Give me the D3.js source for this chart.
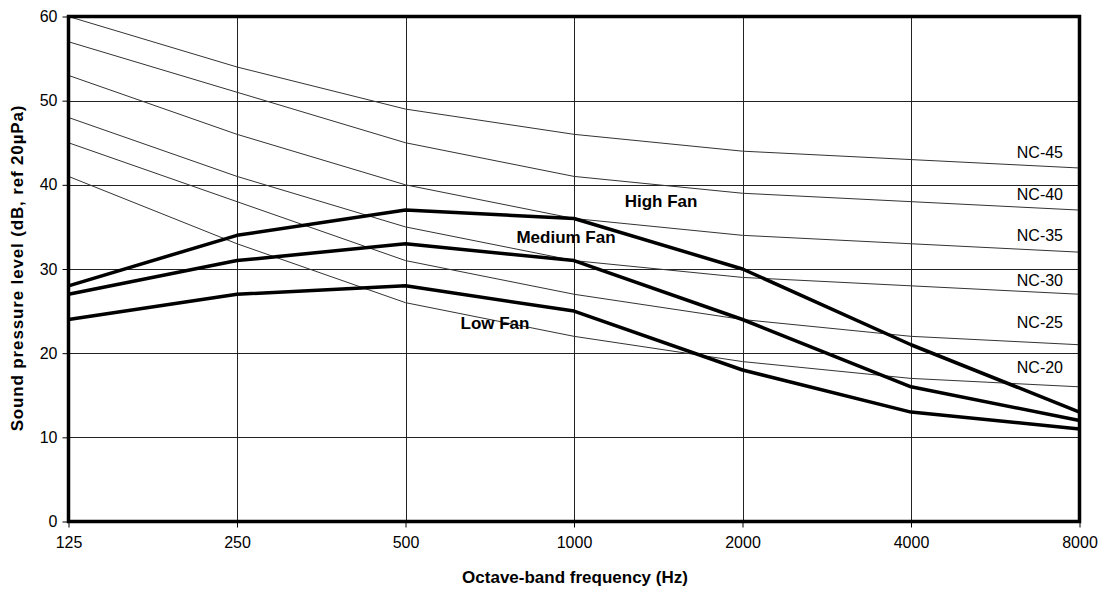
<!DOCTYPE html>
<html>
<head>
<meta charset="utf-8">
<script src="https://d3js.org/d3.v7.min.js"></script>
<style>
body { margin: 0; background: #fff; }
svg text { font-family: Arial, "Liberation Sans", sans-serif; fill: #000; }
.tick text { font-size: 16px; }
.nclab { font-size: 16px; text-anchor: end; }
.fanlab { font-size: 17px; font-weight: bold; text-anchor: middle; }
.title { font-size: 17px; font-weight: bold; text-anchor: middle; }
</style>
</head>
<body>
<svg id="chart" width="1104" height="590"></svg>
<script>
// octave bands
var freqs = ["125", "250", "500", "1000", "2000", "4000", "8000"];

// NC curves
var ncNames = ["NC-45", "NC-40", "NC-35", "NC-30", "NC-25", "NC-20"];
var nc45 = [60, 54, 49, 46, 44, 43, 42];
var nc40 = [57, 51, 45, 41, 39, 38, 37];
var nc35 = [53, 46, 40, 36, 34, 33, 32];
var nc30 = [48, 41, 35, 31, 29, 28, 27];
var nc25 = [45, 38, 31, 27, 24, 22, 21];
var nc20 = [41, 33, 26, 22, 19, 17, 16];

// measured fan spectra
var fanNames = ["High Fan", "Medium Fan", "Low Fan"];
var highFan = [28, 34, 37, 36, 30, 21, 13];
var mediumFan = [27, 31, 33, 31, 24, 16, 12];
var lowFan = [24, 27, 28, 25, 18, 13, 11];

var yTicks = [0, 10, 20, 30, 40, 50, 60];

var svg = d3.select("#chart");
// plot box (don't call it "top", window.top is taken)
var plotL = 68.5, plotR = 1079.5, plotT = 16.5, plotB = 521.5;

var x = d3.scalePoint().domain(freqs).range([plotL, plotR]);
var y = d3.scaleLinear().domain([0, 60]).range([plotB, plotT]);

// grid
svg.append("g").selectAll("line")
  .data(yTicks.filter(function(d) { return d > 0 && d < 60; }))
  .enter().append("line")
    .attr("x1", plotL).attr("x2", plotR)
    .attr("y1", function(d) { return Math.round(y(d)) + 0.5; })
    .attr("y2", function(d) { return Math.round(y(d)) + 0.5; })
    .attr("stroke", "#222").attr("stroke-width", 1);

svg.append("g").selectAll("line")
  .data(freqs.slice(1, -1))
  .enter().append("line")
    .attr("x1", function(d) { return Math.round(x(d)) + 0.5; })
    .attr("x2", function(d) { return Math.round(x(d)) + 0.5; })
    .attr("y1", plotT).attr("y2", plotB)
    .attr("stroke", "#222").attr("stroke-width", 1);

// axes
var xAxis = svg.append("g")
  .attr("transform", "translate(0," + plotB + ")")
  .call(d3.axisBottom(x).tickSize(6).tickPadding(9));
xAxis.select(".domain").remove();
xAxis.selectAll(".tick line").attr("stroke", "#000");

var yAxis = svg.append("g")
  .attr("transform", "translate(" + plotL + ",0)")
  .call(d3.axisLeft(y).tickValues(yTicks).tickSize(6).tickPadding(5));
yAxis.select(".domain").remove();
yAxis.selectAll(".tick line").attr("stroke", "#000");

// NC curves
var ncData = [nc45, nc40, nc35, nc30, nc25, nc20];
var line = d3.line()
  .x(function(d, i) { return x(freqs[i]); })
  .y(function(d) { return y(d); });

svg.append("g").selectAll("path")
  .data(ncData)
  .enter().append("path")
    .attr("d", line)
    .attr("fill", "none")
    .attr("stroke", "#333")
    .attr("stroke-width", 1);

// label offsets from the 8000 Hz value of each curve
var ncLabDy = [-10, -10, -11, -8, -17, -14];
svg.append("g").selectAll("text")
  .data(ncData)
  .enter().append("text")
    .attr("class", "nclab")
    .attr("x", 1063)
    .attr("y", function(d, i) { return y(d[d.length - 1]) + ncLabDy[i]; })
    .text(function(d, i) { return ncNames[i]; });

// fan curves
var fanData = [highFan, mediumFan, lowFan];
svg.append("g").selectAll("path")
  .data(fanData)
  .enter().append("path")
    .attr("d", line)
    .attr("fill", "none")
    .attr("stroke", "#000")
    .attr("stroke-width", 3.5)
    .attr("stroke-linejoin", "round");

var fanLabPos = [[661, 207], [566, 243], [495, 329]];
svg.append("g").selectAll("text")
  .data(fanNames)
  .enter().append("text")
    .attr("class", "fanlab")
    .attr("x", function(d, i) { return fanLabPos[i][0]; })
    .attr("y", function(d, i) { return fanLabPos[i][1]; })
    .text(function(d) { return d; });

// plot border, heavy like the Excel frame
svg.append("path")
  .attr("d", "M" + plotL + "," + plotT + "H" + plotR + "V" + plotB + "H" + plotL + "Z")
  .attr("fill", "none")
  .style("stroke", "#000")
  .style("stroke-width", "3.5px")
  .attr("stroke-linejoin", "miter");

// titles
svg.append("text")
  .attr("class", "title")
  .attr("x", 575).attr("y", 583)
  .text("Octave-band frequency (Hz)");

svg.append("text")
  .attr("class", "title")
  .attr("transform", "translate(23,268) rotate(-90)")
  .style("letter-spacing", "0.85px")
  .text("Sound pressure level (dB, ref 20\u00b5Pa)");
</script>
</body>
</html>
